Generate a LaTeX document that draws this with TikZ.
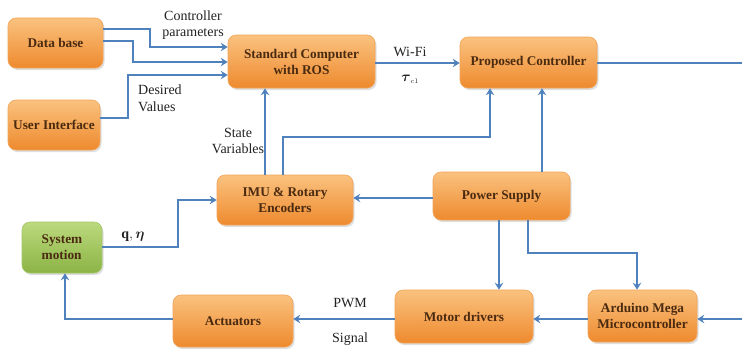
\documentclass[tikz,border=0pt]{standalone}
\usepackage{amsmath}
\usepackage{fontspec}
\setmainfont{Liberation Serif}
\usetikzlibrary{arrows.meta,shadows}
\definecolor{orTop}{HTML}{FAC27F}
\definecolor{orBot}{HTML}{EE8A2E}
\definecolor{orEdge}{HTML}{F2A458}
\definecolor{grTop}{HTML}{BCD97E}
\definecolor{grBot}{HTML}{8BB445}
\definecolor{grEdge}{HTML}{A3C665}
\definecolor{boxText}{HTML}{4A2A10}
\definecolor{lblText}{HTML}{222222}
\definecolor{arrBlue}{HTML}{4F81BD}
\begin{document}
\begin{tikzpicture}[x=1pt,y=-1pt,
  box/.style={rounded corners=8pt, top color=orTop, bottom color=orBot, draw=orEdge, line width=0.6pt,
    drop shadow={opacity=0.25, shadow xshift=1.5pt, shadow yshift=-2pt},
    text=boxText, font=\fontsize{13.3}{16}\selectfont\bfseries, align=center, inner sep=2pt},
  gbox/.style={box, top color=grTop, bottom color=grBot, draw=grEdge},
  lbl/.style={text=lblText, font=\fontsize{14}{16.5}\selectfont, inner sep=0pt},
  arr/.style={draw=arrBlue, line width=1.7pt, -{Stealth[length=7pt,width=8.5pt,inset=2.5pt]}},
  ln/.style={draw=arrBlue, line width=1.7pt}]
\useasboundingbox (0,0) rectangle (742,349);
\fill[white] (0,0) rectangle (742,349);

\node[box, minimum width=95pt, minimum height=50pt] (db) at (55.5,43) {Data base};
\node[box, minimum width=92pt, minimum height=50pt] (ui) at (54,125) {User Interface};
\node[box, minimum width=147pt, minimum height=53pt] (std) at (301.5,61.5) {Standard Computer\\with ROS};
\node[box, minimum width=137pt, minimum height=51pt] (pc) at (528.5,62.5) {Proposed Controller};
\node[box, minimum width=136pt, minimum height=50pt] (imu) at (285,200) {IMU \& Rotary\\Encoders};
\node[box, minimum width=137pt, minimum height=48pt] (ps) at (501.5,196) {Power Supply};
\node[gbox, minimum width=80pt, minimum height=51pt, align=left] (sm) at (62,247.5) {System\\motion};
\node[box, minimum width=120pt, minimum height=52pt] (act) at (233,321) {Actuators};
\node[box, minimum width=138pt, minimum height=53pt] (md) at (464,316.5) {Motor drivers};
\node[box, minimum width=109pt, minimum height=52pt] (ard) at (642.5,316) {Arduino Mega\\Microcontroller};

\coordinate (outR) at (742,63);
\coordinate (inR) at (742,319);

% inputs to standard computer
\draw[arr] (db.east |- 0,29) -| (150,47) -- (std.west |- 0,47);
\draw[arr] (db.east |- 0,41) -| (133,62) -- (std.west |- 0,62);
\draw[arr] (ui.east |- 0,118) -| (128,75) -- (std.west |- 0,75);
% wifi
\draw[arr] (std.east |- 0,63) -- (pc.west |- 0,63);
\draw[ln] (pc.east |- 0,63) -- (outR);
% state variables
\draw[arr] (imu.north -| 265,0) -- (std.south -| 265,0);
\draw[arr] (imu.north -| 283,0) |- (490,137) -- (pc.south -| 490,0);
\draw[arr] (ps.north -| 542,0) -- (pc.south -| 542,0);
\draw[arr] (ps.west |- 0,198) -- (imu.east |- 0,198);
\draw[arr] (sm.east |- 0,247) -| (178,200) -- (imu.west |- 0,200);
% power
\draw[arr] (ps.south -| 499,0) -- (md.north -| 499,0);
\draw[arr] (ps.south -| 528,0) |- (637,253) -- (ard.north -| 637,0);
% bottom chain
\draw[arr] (inR) -- (ard.east |- 0,319);
\draw[arr] (ard.west |- 0,319) -- (md.east |- 0,319);
\draw[arr] (md.west |- 0,319) -- (act.east |- 0,319);
\draw[arr] (act.west |- 0,319) -| (sm.south -| 65,0);

% labels
\node[lbl, align=center] (l1) at (193,25) {Controller\\parameters};
\node[lbl, align=left, anchor=west] (l2) at (138,98) {Desired\\Values};
\node[lbl, align=center] (l3) at (238,141) {State\\Variables};
\node[lbl] (l4) at (410,52) {Wi-Fi};
\node[lbl] (l5) at (410,79) {$\boldsymbol{\tau}_{\scriptscriptstyle c1}$};
\node[lbl] (l6) at (133,237) {$\mathbf{q},\boldsymbol{\eta}$};
\node[lbl] (l7) at (350,303) {PWM};
\node[lbl] (l8) at (350,339) {Signal};
\end{tikzpicture}
\end{document}
